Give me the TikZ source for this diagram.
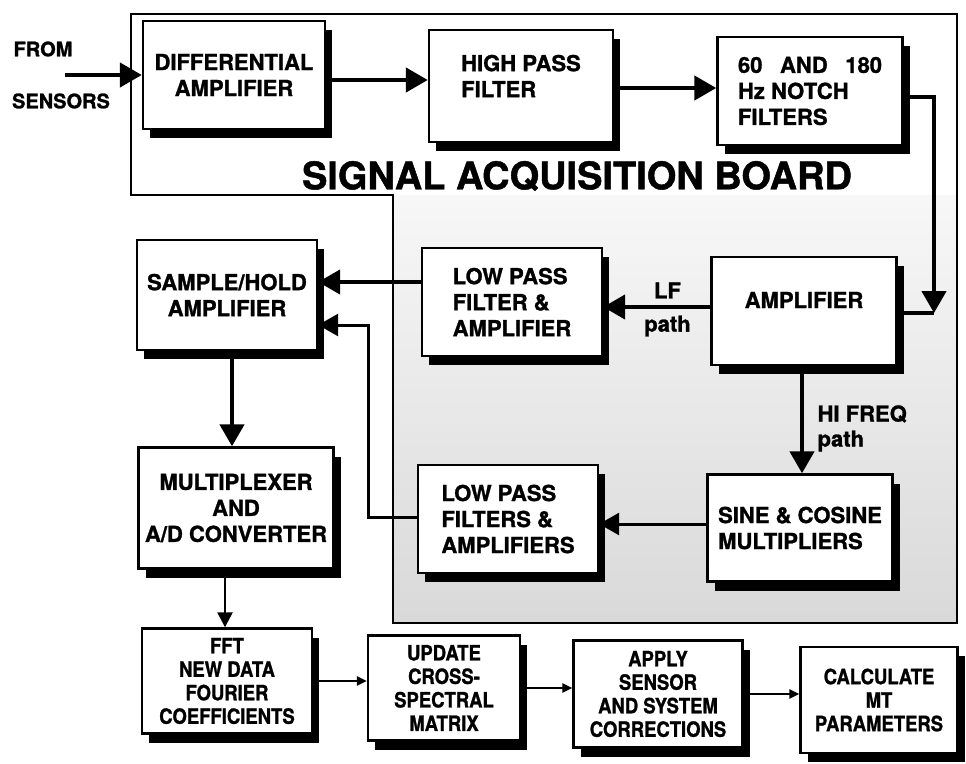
\documentclass[tikz,border=0pt]{standalone}
\usepackage{fontspec}
\setmainfont{TeX Gyre Heros}[BoldFeatures={FakeBold=1.2}]
\newfontfamily\narrowfont{TeX Gyre Heros}[FakeStretch=0.88, BoldFeatures={FakeBold=1.1}]
\usepackage{tikz}
\usetikzlibrary{arrows.meta, positioning, shadows}

\begin{document}
\begin{tikzpicture}[
		x=1pt, y=-1pt,
		blk/.style={draw, line width=2.4pt, fill=white, align=center, inner sep=2pt,
			font=\fontsize{22}{26}\selectfont\bfseries,
			drop shadow={shadow xshift=7pt, shadow yshift=-9pt, fill=black, opacity=1}},
		stage/.style={blk, font=\narrowfont\fontsize{21}{23.5}\selectfont\bfseries},
		lbl/.style={font=\fontsize{22}{25}\selectfont\bfseries},
		flow/.style={line width=4.5pt, -{Triangle[length=22pt,width=24pt]}},
		thinflow/.style={line width=3pt, -{Triangle[length=20pt,width=22pt]}},
		smallflow/.style={line width=2.5pt, -{Triangle[length=15pt,width=15pt]}},
		tinyflow/.style={line width=2.5pt, -{Triangle[length=10pt,width=9pt]}}
	]
	\useasboundingbox (0,0) rectangle (966,763);

	% signal acquisition board
	\fill[top color=black!3, bottom color=black!15] (393,195) rectangle (957,623);
	\draw[line width=2pt] (131,14) -- (957,14) -- (957,623) -- (393,623) -- (393,195) -- (131,195) -- cycle;
	\node[font=\fontsize{38}{40}\selectfont\bfseries] (title) at (577,176) {SIGNAL ACQUISITION BOARD};

	\node[lbl, font=\fontsize{20}{22}\selectfont\bfseries] (from) at (43,49) {FROM};
	\node[lbl, font=\fontsize{20}{22}\selectfont\bfseries] (sensors) at (61,101) {SENSORS};
	\coordinate (src) at (65,75);

	\node[blk, minimum width=182pt, minimum height=108pt] (diff) at (234,75) {DIFFERENTIAL\\AMPLIFIER};
	\node[blk, align=left, text depth=20pt, minimum width=184pt, minimum height=112pt] (hpf) at (521,86) {HIGH PASS\\FILTER};
	\node[blk, align=left, minimum width=185pt, minimum height=108pt] (notch) at (810,91) {60\hspace{0.8em}AND\hspace{0.8em}180\\Hz NOTCH\\FILTERS};

	\node[blk, text depth=22pt, minimum width=185pt, minimum height=108pt] (amp) at (804,311) {AMPLIFIER};
	\node[blk, align=left, minimum width=180pt, minimum height=108pt] (lpf) at (512,302) {LOW PASS\\FILTER \&\\AMPLIFIER};
	\node[blk, minimum width=180pt, minimum height=110pt] (sh) at (227,295) {SAMPLE/HOLD\\AMPLIFIER};

	\node[blk, align=left, minimum width=185pt, minimum height=107pt] (sine) at (800,528) {SINE \& COSINE\\MULTIPLIERS};
	\node[blk, align=left, minimum width=180pt, minimum height=108pt] (lpfs) at (508,519) {LOW PASS\\FILTERS \&\\AMPLIFIERS};
	\node[blk, minimum width=195pt, minimum height=121pt] (mux) at (236,508) {MULTIPLEXER\\AND\\A/D CONVERTER};

	\node[stage, minimum width=170pt, minimum height=105pt] (fft) at (227,681) {FFT\\NEW DATA\\FOURIER\\COEFFICIENTS};
	\node[stage, minimum width=152pt, minimum height=105pt] (upd) at (444,688) {UPDATE\\CROSS-\\SPECTRAL\\MATRIX};
	\node[stage, minimum width=169pt, minimum height=107pt] (apply) at (658,694) {APPLY\\SENSOR\\AND SYSTEM\\CORRECTIONS};
	\node[stage, minimum width=157pt, minimum height=106pt] (calc) at (879,700) {CALCULATE\\MT\\PARAMETERS};

	\draw[flow] (src) -- (diff.west);
	\draw[flow] (diff.east |- 0,80) -- (hpf.west |- 0,80);
	\draw[flow] (hpf.east |- 0,88) -- (notch.west |- 0,88);
	\coordinate (drop) at (934,313);
	\draw[flow] (notch.east |- 0,97) -| (drop);
	\draw[line width=4pt] (amp.east |- drop) -- (drop);

	\draw[flow] (amp.west |- 0,307) -- (lpf.east |- 0,307)
		node[lbl, pos=0.4, above=3pt] (lf) {LF}
		node[lbl, pos=0.4, below=3pt] (lfpath) {path};
	\draw[flow] (amp.south -| 802,0) -- (sine.north -| 802,0)
		node[lbl, pos=0.58, right=10pt, align=left] (hf) {HI FREQ\\path};

	\draw[flow] (lpf.west |- 0,282) -- (sh.east |- 0,282);
	\coordinate (bend) at (368,325);
	\draw[thinflow] (lpfs.west |- 0,517) -| (bend) -- (sh.east |- bend);
	\draw[thinflow] (sine.west |- 0,524) -- (lpfs.east |- 0,524);

	\draw[flow] (sh.south -| 232,0) -- (mux.north -| 232,0);
	\draw[smallflow] (mux.south -| 225,0) -- (fft.north -| 225,0);

	\draw[tinyflow] (fft.east |- 0,681) -- (upd.west |- 0,681);
	\draw[tinyflow] (upd.east |- 0,688) -- (apply.west |- 0,688);
	\draw[tinyflow] (apply.east |- 0,694) -- (calc.west |- 0,694);
\end{tikzpicture}
\end{document}
